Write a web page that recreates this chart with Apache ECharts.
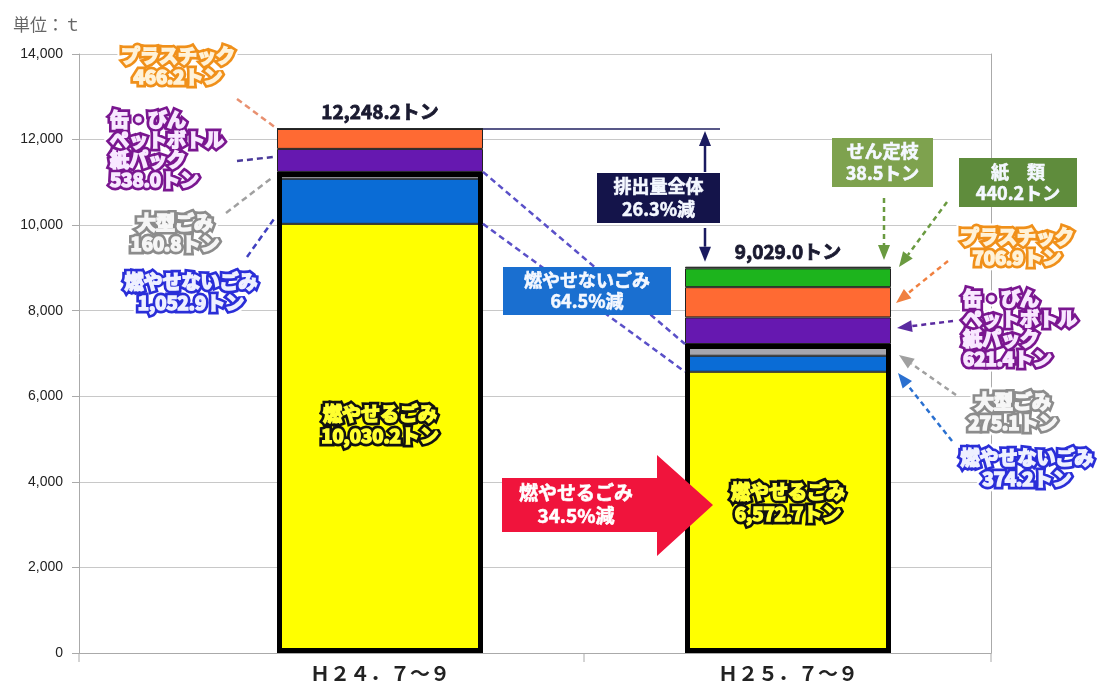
<!DOCTYPE html>
<html><head><meta charset="utf-8">
<script src="https://cdn.jsdelivr.net/npm/echarts@6/dist/echarts.min.js"></script>
<style>html,body{margin:0;padding:0;background:#fff}#c{width:1105px;height:684px}</style>
</head><body><div id="c"></div>
<script>
// ---- data ----
const categories = ['Ｈ２４．７～９', 'Ｈ２５．７～９'];
const moyaseru  = [10030.2, 6572.7];   // 燃やせるごみ
const moyasenai = [1052.9, 374.2];     // 燃やせないごみ
const oogata    = [160.8, 275.1];      // 大型ごみ
const kanbin    = [538.0, 621.4];      // 缶・びん・ペットボトル・紙パック
const plastic   = [466.2, 706.9];      // プラスチック
const kami      = [0, 440.2];          // 紙類
const sentei    = [0, 38.5];           // せん定枝
const totals    = [12248.2, 9029.0];
const totalLabels = ['12,248.2トン', '9,029.0トン'];
const yMin = 0, yMax = 14000, yStep = 2000;

const frame = moyaseru.map((v, i) => v + moyasenai[i] + oogata[i]);

const JP = '"Noto Sans CJK JP"';
const chart = echarts.init(document.getElementById('c'));
const BW = 206;
function seg(name, data, color) {
  return { name, type: 'bar', stack: 'all', xAxisIndex: 1, yAxisIndex: 2, data, barWidth: BW, barGap: '-100%',
    itemStyle: { color, borderColor: '#222', borderWidth: 1 } };
}
chart.setOption({
  animation: false,
  grid: [
    { left: 79, width: 912, top: 54, height: 599 },
    { left: 176, width: 816, top: 54, height: 599 }
  ],
  xAxis: [
    { type: 'value', gridIndex: 0, min: 0, max: 1, axisLine: { show: true, lineStyle: { color: '#aaa' } },
      axisTick: { show: false }, axisLabel: { show: false }, splitLine: { show: false } },
    { type: 'category', gridIndex: 1, data: categories, axisLine: { show: false },
      axisTick: { show: false },
      axisLabel: { margin: 10, fontFamily: JP, fontWeight: 'bold', fontSize: 20, color: '#222' } }
  ],
  yAxis: [
    { type: 'value', gridIndex: 0, min: yMin, max: yMax, interval: yStep,
      axisLine: { show: true, lineStyle: { color: '#aaa' } },
      axisTick: { show: true, length: 7, lineStyle: { color: '#aaa' } },
      axisLabel: { margin: 16, fontSize: 14, color: '#222', fontFamily: 'Liberation Sans',
        formatter: v => v.toLocaleString('en-US') },
      splitLine: { lineStyle: { color: '#c8c8c8' } } },
    { type: 'value', gridIndex: 0, position: 'right', min: yMin, max: yMax, interval: yStep,
      axisLine: { show: true, lineStyle: { color: '#aaa' } }, axisTick: { show: false },
      axisLabel: { show: false }, splitLine: { show: false } },
    { type: 'value', gridIndex: 1, min: yMin, max: yMax, show: false }
  ],
  series: [
    seg('燃やせるごみ', moyaseru, '#ffff00'),
    seg('燃やせないごみ', moyasenai, '#0a6cd6'),
    seg('大型ごみ', oogata, '#a6a6ae'),
    seg('缶・びん・ペットボトル・紙パック', kanbin, '#6618b0'),
    seg('プラスチック', plastic, '#ff6a33'),
    seg('紙類', kami, '#1db41d'),
    seg('せん定枝', sentei, '#1db41d'),
    { name: 'frame', type: 'bar', xAxisIndex: 1, yAxisIndex: 2, data: frame, barWidth: BW, barGap: '-100%', z: 5,
      itemStyle: { color: 'rgba(0,0,0,0)', borderColor: '#000', borderWidth: 5 } }
  ]
});

// ---- annotations ----
const P = (ci, v) => chart.convertToPixel({ xAxisIndex: 1, yAxisIndex: 2 }, [ci, v]);
const G = [];
let zc = 100;
const HEAVY = 'bold 19px ' + JP;
function txt(x, y, text, opt) {
  G.push({ type: 'text', z: zc++, style: Object.assign({ x, y, text, textAlign: 'center', textVerticalAlign: 'middle',
    font: HEAVY, lineHeight: 21 }, opt) });
}
function outl(x, y, text, fill, stroke, align, lh, halo) {
  const base = { textAlign: align || 'center', lineHeight: lh || 21 };
  if (halo !== false) txt(x, y, text, Object.assign({ fill: '#fff', stroke: '#fff', lineWidth: 11 }, base));
  txt(x, y, text, Object.assign({ fill: stroke, stroke: stroke, lineWidth: 7 }, base));
  txt(x, y, text, Object.assign({ fill: fill, stroke: fill, lineWidth: 1.6 }, base));
}
function box(x1, y1, x2, y2, color, text, lh) {
  G.push({ type: 'rect', z: 90, shape: { x: x1, y: y1, width: x2 - x1, height: y2 - y1 }, style: { fill: color } });
  txt((x1 + x2) / 2, (y1 + y2) / 2, text, { fill: '#f4f8ff', stroke: '#f4f8ff', lineWidth: 0.6, lineHeight: lh || 23, font: 'bold 18px ' + JP });
}
function dline(x1, y1, x2, y2, color, w) {
  G.push({ type: 'line', z: 60, shape: { x1, y1, x2, y2 }, style: { stroke: color, lineWidth: w || 2.5, lineDash: [6, 4] } });
}
function arrow(x1, y1, x2, y2, color, dashed) {
  const a = Math.atan2(y2 - y1, x2 - x1), L = 15, W = 6;
  const bx = x2 - L * Math.cos(a), by = y2 - L * Math.sin(a);
  const px = -Math.sin(a) * W, py = Math.cos(a) * W;
  const st = { stroke: color, lineWidth: 2.5 };
  if (dashed) st.lineDash = [5, 4];
  G.push({ type: 'line', z: 60, shape: { x1, y1, x2: bx, y2: by }, style: st });
  G.push({ type: 'polygon', z: 60, shape: { points: [[x2, y2], [bx + px, by + py], [bx - px, by - py]] }, style: { fill: color } });
}

const b1 = P(0, totals[0]), b2 = P(1, totals[1]);
const r1 = b1[0] + BW / 2, l2 = b2[0] - BW / 2;

// category-boundary ticks on the base axis (left end, between bars, right end)
const gx0 = chart.convertToPixel({ xAxisIndex: 0 }, 0), gx1 = chart.convertToPixel({ xAxisIndex: 0 }, 1);
const y0 = P(0, 0)[1];
[gx0, (b1[0] + b2[0]) / 2, gx1].forEach(x => {
  G.push({ type: 'line', z: 40, shape: { x1: x, y1: y0, x2: x, y2: y0 + 9 }, style: { stroke: '#aaa', lineWidth: 1 } });
});

// unit
txt(13, 25, '単位：ｔ', { textAlign: 'left', font: '17px ' + JP, fill: '#666' });

// totals
txt(b1[0], b1[1] - 17, totalLabels[0], { fill: '#1a1a30', stroke: '#1a1a30', lineWidth: 0.8, font: 'bold 19px ' + JP });
txt(b2[0], b2[1] - 15, totalLabels[1], { fill: '#1a1a30', stroke: '#1a1a30', lineWidth: 0.8, font: 'bold 19px ' + JP });
G.push({ type: 'line', z: 60, shape: { x1: r1, y1: b1[1], x2: 720, y2: b1[1] }, style: { stroke: '#202060', lineWidth: 1.5 } });
arrow(705, 172, 705, b1[1] + 2, '#1a1a60', false);
arrow(705, 228, 705, b2[1] - 5, '#1a1a60', false);
box(597, 173, 720, 223, '#14144a', '排出量全体\n26.3%減');

// connecting dashed lines between bars
const f1 = P(0, frame[0]), f2 = P(1, frame[1]);
const m1 = P(0, moyaseru[0]), m2 = P(1, moyaseru[1]);
dline(r1, f1[1], l2, f2[1], '#5a50c8', 2.5);
dline(r1, m1[1], l2, m2[1], '#5a50c8', 2.5);
box(503, 267, 671, 315, '#1a6fd0', '燃やせないごみ\n64.5%減', 21);

// red arrow
G.push({ type: 'polygon', z: 80, shape: { points: [[502, 478], [657, 478], [657, 455], [713, 505], [657, 556], [657, 532], [502, 532]] },
  style: { fill: '#f0143c' } });
txt(576, 504, '燃やせるごみ\n34.5%減', { fill: '#fff', stroke: '#fff', lineWidth: 0.6, lineHeight: 23 });

// in-bar labels
const c1 = P(0, moyaseru[0] / 2), c2 = P(1, moyaseru[1] / 2);
outl(c1[0], 425, '燃やせるごみ\n10,030.2トン', '#ffff30', '#111', 'center', 22, false);
outl(c2[0], 503, '燃やせるごみ\n6,572.7トン', '#ffff30', '#111', 'center', 22, false);

// left callouts
dline(237, 99, 276, 128, '#e89070');
outl(178, 66, 'プラスチック\n466.2トン', '#fff2d8', '#f0901a');
dline(237, 161, 273, 157, '#4a3a9a');
outl(110, 150, '缶・びん\nペットボトル\n紙パック\n538.0トン', '#f8e8ff', '#7a1690', 'left', 20);
dline(226, 213, 273, 177, '#a0a0a0');
outl(175, 233, '大型ごみ\n160.8トン', '#f6f6f6', '#8c8c8c');
dline(247, 257, 274, 219, '#4040c0');
outl(191, 292, '燃やせないごみ\n1,052.9トン', '#eef0ff', '#2a2ed8');

// right callouts
box(832, 138, 933, 187, '#7ea24e', 'せん定枝\n38.5トン', 22);
box(959, 158, 1077, 207, '#5f8c3c', '紙　類\n440.2トン', 21);
arrow(884, 198, 884, 260, '#6a9a40', true);
arrow(947, 202, 899, 267, '#6a9a40', true);
outl(1017, 247, 'プラスチック\n706.9トン', '#fff2d8', '#f0901a');
arrow(948, 261, 896, 303, '#f08040', true);
outl(963, 329, '缶・びん\nペットボトル\n紙パック\n621.4トン', '#f8e8ff', '#7a1690', 'left', 20);
arrow(953, 321, 897, 328, '#5a2aa0', true);
outl(1013, 412, '大型ごみ\n275.1トン', '#f6f6f6', '#8c8c8c');
arrow(956, 395, 899, 355, '#a0a0a0', true);
outl(1027, 468, '燃やせないごみ\n374.2トン', '#eef0ff', '#2a2ed8');
arrow(952, 441, 898, 373, '#2a70d0', true);

chart.setOption({ graphic: G });
</script></body></html>
